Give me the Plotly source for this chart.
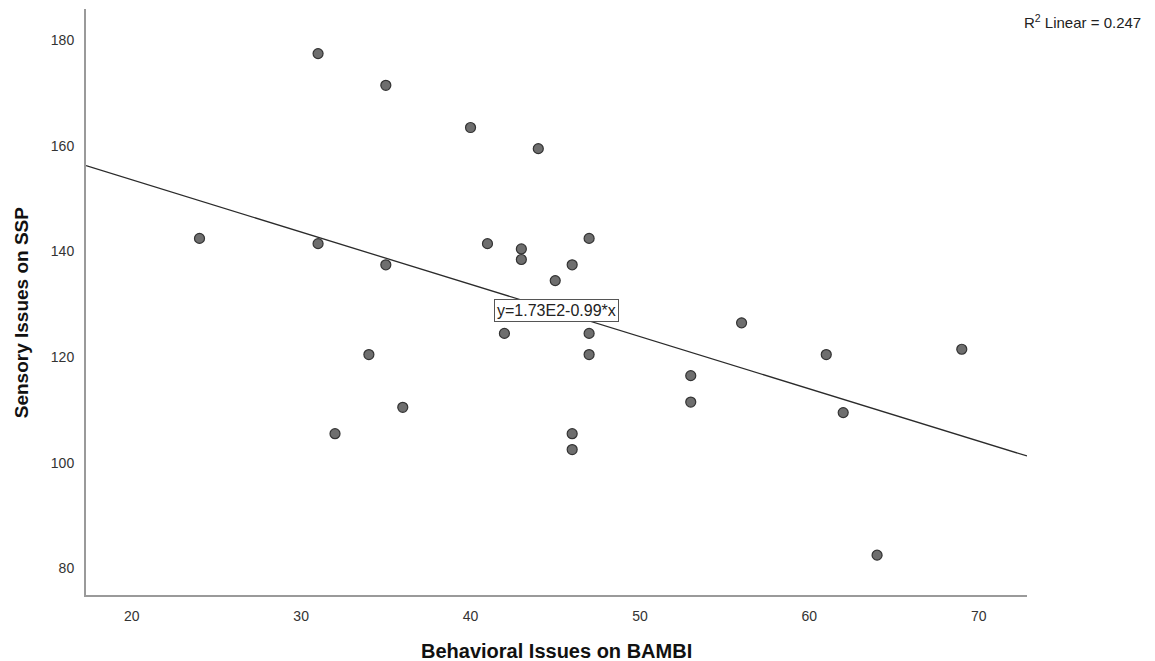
import numpy as np
import plotly.graph_objects as go

# Behavioral (BAMBI) vs sensory (SSP) scores per participant
bambi = [31, 35, 40, 44, 24, 31, 35, 41, 43, 43, 47, 46, 45, 42,
         47, 47, 56, 53, 53, 36, 46, 46, 34, 32, 61, 69, 62, 64]
ssp = [177.5, 171.5, 163.5, 159.5, 142.5, 141.5, 137.5, 141.5, 140.5, 138.5,
       142.5, 137.5, 134.5, 124.5, 124.5, 120.5, 126.5, 116.5, 111.5, 110.5,
       105.5, 102.5, 120.5, 105.5, 120.5, 121.5, 109.5, 82.5]

# Linear fit summary
intercept = 173.4
slope = -0.99
r2_linear = 0.247

x_ticks = [20, 30, 40, 50, 60, 70]
y_ticks = [80, 100, 120, 140, 160, 180]
x_range = [17.3, 72.85]
y_range = [74.95, 185.95]

fit_x = np.array(x_range)
fit_y = intercept + slope * fit_x


def sci(v):
    m, e = f"{v:.2E}".split("E")
    return f"{m}E{int(e)}"


eq_text = f"y={sci(intercept)}{'-' if slope < 0 else '+'}{abs(slope):.2f}*x"

fig = go.Figure()
fig.add_trace(go.Scatter(
    x=fit_x, y=fit_y, mode="lines",
    line=dict(color="#2b2b2b", width=1.3),
    hoverinfo="skip", showlegend=False,
))
fig.add_trace(go.Scatter(
    x=bambi, y=ssp, mode="markers",
    marker=dict(size=10, color="#6e6e6e", line=dict(color="#333333", width=1.2)),
    showlegend=False,
))

eq_x = 45.06
fig.add_annotation(
    x=eq_x, y=intercept + slope * eq_x, xref="x", yref="y",
    text=eq_text, showarrow=False,
    font=dict(family="Liberation Sans, Arial", size=16, color="#222222"),
    bgcolor="white", bordercolor="#555555", borderwidth=1, borderpad=2,
)
fig.add_annotation(
    x=1.1236, y=0.9795, xref="paper", yref="paper",
    xanchor="right", yanchor="middle",
    text=f"R<sup>2</sup> Linear = {r2_linear}", showarrow=False,
    font=dict(family="Liberation Sans, Arial", size=15, color="#222222"),
)
fig.add_annotation(
    x=0.5, y=-0.0956, xref="paper", yref="paper",
    xanchor="center", yanchor="middle",
    text="<b>Behavioral Issues on BAMBI</b>", showarrow=False,
    font=dict(family="Liberation Sans, Arial", size=20, color="#111111"),
)
fig.add_annotation(
    x=-0.0677, y=0.483, xref="paper", yref="paper",
    xanchor="center", yanchor="middle", textangle=-90,
    text="<b>Sensory Issues on SSP</b>", showarrow=False,
    font=dict(family="Liberation Sans, Arial", size=19, color="#111111"),
)

axis_common = dict(
    showgrid=False, zeroline=False, showline=True,
    linecolor="#9a9a9a", linewidth=2,
    ticks="outside", ticklen=7, tickcolor="rgba(0,0,0,0)",
    tickfont=dict(family="Liberation Sans, Arial", size=14, color="#333333"),
)
fig.update_xaxes(range=x_range, tickvals=x_ticks, **axis_common)
fig.update_yaxes(range=y_range, tickvals=y_ticks, **axis_common)

fig.update_layout(
    width=1155, height=661,
    margin=dict(l=86, r=128, t=9, b=66),
    plot_bgcolor="white", paper_bgcolor="white",
    font=dict(family="Liberation Sans, Arial"),
)

fig.write_html("out.html")
